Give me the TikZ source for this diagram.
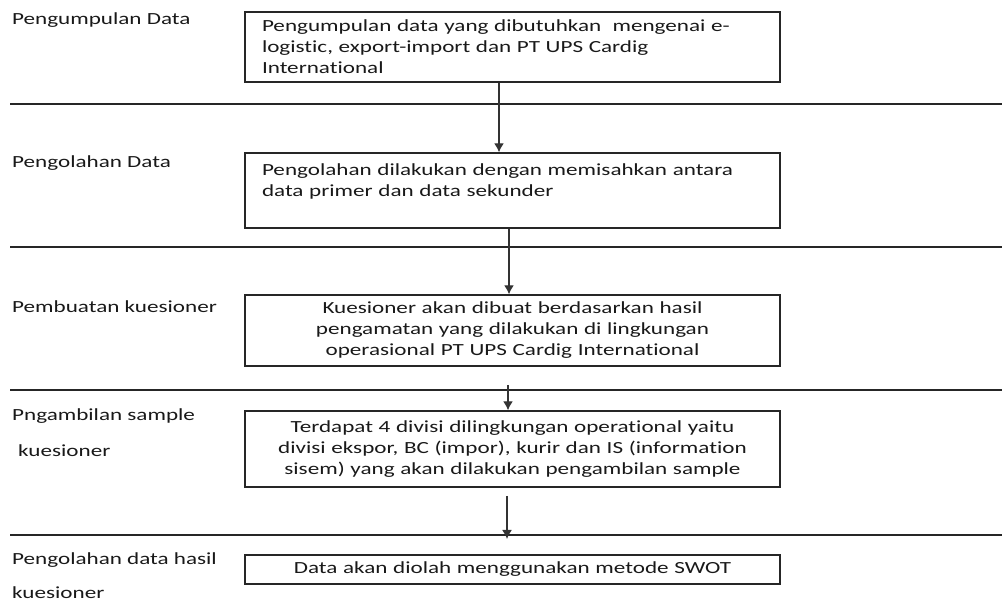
\documentclass[tikz,border=0pt]{standalone}
\usepackage{fontspec}
\setmainfont{Carlito}[FakeStretch=1.36, Ligatures={NoCommon}]
\usetikzlibrary{arrows.meta}
\tikzset{
  stepbox/.style={draw=black!85, line width=1.4pt, minimum width=535pt, text width=501pt,
    inner xsep=17pt, inner ysep=0pt, text=black!90, font=\fontsize{17}{21}\selectfont},
  leftbox/.style={stepbox, align=left},
  midbox/.style={stepbox, align=center},
  phase/.style={anchor=base west, inner sep=0pt, align=left, text=black!90,
    font=\fontsize{17}{21}\selectfont},
  flowarrow/.style={draw=black!80, line width=1.4pt, -{Latex[length=9pt,width=10pt]}},
  sepline/.style={draw=black!85, line width=1.3pt}
}
\begin{document}
\begin{tikzpicture}[x=1pt,y=-1pt]
\useasboundingbox (0,0) rectangle (1002,601);
% separators
\draw[sepline] (10,104) -- (1002,104);
\draw[sepline] (10,247) -- (1002,247);
\draw[sepline] (10,390) -- (1002,390);
\draw[sepline] (10,535) -- (1002,535);
% phase labels (base anchor = baseline of last line)
\node[phase] (l1) at (12,25) {Pengumpulan Data};
\node[phase] (l2) at (12,168) {Pengolahan Data};
\node[phase] (l3) at (12,313) {Pembuatan kuesioner};
\node[phase] (l4) at (12,457) {Pngambilan sample\\[15pt]\hspace{6pt}kuesioner};
\node[phase] (l5) at (12,598) {Pengolahan data hasil\\[13pt]kuesioner};
% boxes
\node[leftbox, minimum height=70pt] (b1) at (512.5,47)
  {Pengumpulan data yang dibutuhkan\ \ mengenai e-\\logistic, export-import dan PT UPS Cardig\\International};
\node[leftbox, minimum height=75pt] (b2) at (512.5,190.5)
  {Pengolahan dilakukan dengan memisahkan antara\\data primer dan data sekunder\\~};
\node[midbox, minimum height=71pt] (b3) at (512.5,330.5)
  {Kuesioner akan dibuat berdasarkan hasil\\pengamatan yang dilakukan di lingkungan\\operasional PT UPS Cardig International};
\node[midbox, minimum height=76pt] (b4) at (512.5,449)
  {Terdapat 4 divisi dilingkungan operational yaitu\\divisi ekspor, BC (impor), kurir dan IS (information\\sisem) yang akan dilakukan pengambilan sample};
\node[midbox, minimum height=29pt] (b5) at (512.5,569.5)
  {Data akan diolah menggunakan metode SWOT};
% arrows
\coordinate (a3s) at (508,385);
\coordinate (a4s) at (507,496);
\coordinate (a4e) at (507,539);
\draw[flowarrow] (b1.south -| 499,0) -- (b2.north -| 499,0);
\draw[flowarrow] (b2.south -| 509,0) -- (b3.north -| 509,0);
\draw[flowarrow] (a3s) -- (a3s |- b4.north);
\draw[flowarrow] (a4s) -- (a4e);
\end{tikzpicture}
\end{document}
